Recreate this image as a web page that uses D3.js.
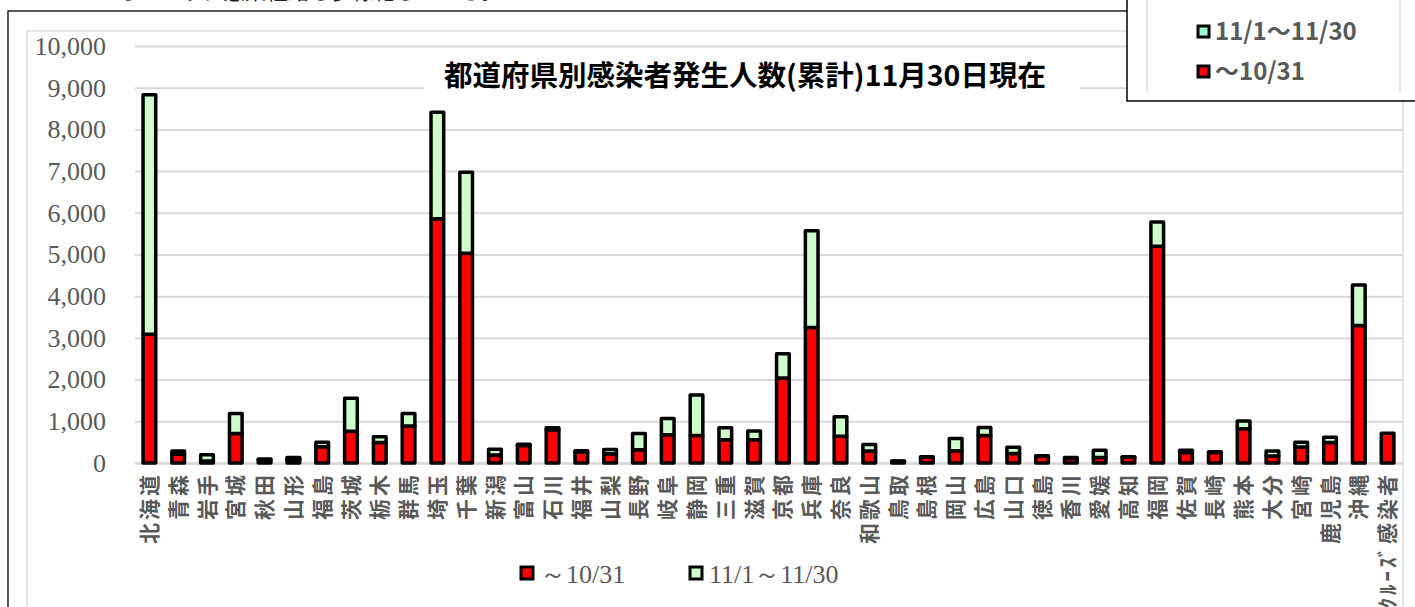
<!DOCTYPE html>
<html>
<head>
<meta charset="utf-8">
<script src="https://cdn.jsdelivr.net/npm/d3@7"></script>
<style>
  body { margin: 0; background: #fff; }
  svg { display: block; }
</style>
</head>
<body>
<svg id="drawing_region"></svg>
<script>
// prefectures (+ cruise ship)
const prefs = ['北海道','青森','岩手','宮城','秋田','山形','福島','茨城','栃木','群馬',
    '埼玉','千葉','新潟','富山','石川','福井','山梨','長野','岐阜','静岡',
    '三重','滋賀','京都','兵庫','奈良','和歌山','鳥取','島根','岡山','広島',
    '山口','徳島','香川','愛媛','高知','福岡','佐賀','長崎','熊本','大分',
    '宮崎','鹿児島','沖縄','ｸﾙｰｽﾞ感染者'];

// cumulative up to 10/31
const upTo1031 = [3090, 210, 45, 710, 70, 85, 390, 760, 490, 890,
    5860, 5030, 190, 420, 800, 260, 220, 320, 680, 660,
    560, 560, 2040, 3250, 640, 285, 40, 140, 295, 660,
    225, 160, 110, 130, 140, 5200, 250, 250, 820, 170,
    385, 490, 3300, 712];

// new cases 11/1 - 11/30
const nov = [5740, 80, 155, 480, 25, 45, 105, 790, 140, 300,
    2550, 1940, 140, 30, 45, 35, 105, 390, 390, 970,
    285, 205, 580, 2320, 470, 160, 8, 10, 295, 190,
    155, 15, 20, 175, 10, 580, 55, 20, 190, 115,
    110, 125, 970, 0];

const yTicks = [0, 1000, 2000, 3000, 4000, 5000, 6000, 7000, 8000, 9000, 10000];
const seriesNames = ['～10/31', '11/1～11/30'];
const seriesColors = ['#ff0000', '#ccffcc'];

const title = '都道府県別感染者発生人数(累計)11月30日現在';

class StackedBar {
    constructor(config) {
        this.config = config;
        this.data = prefs.map((p, i) => ({ pref: p, a: upTo1031[i], b: nov[i] }));
        this.init();
    }

    init() {
        let self = this;
        const m = self.config.margin;
        self.svg = d3.select(self.config.parent)
            .attr('width', self.config.width)
            .attr('height', self.config.height);

        self.xscale = d3.scaleBand()
            .domain(prefs)
            .range([m.left, m.right])
            .paddingInner(0.56)
            .paddingOuter(0.28);

        self.yscale = d3.scaleLinear()
            .domain([0, 10000])
            .range([m.bottom, m.top]);

        self.stack = d3.stack().keys(['a', 'b'])(self.data);
    }

    render() {
        let self = this;
        const m = self.config.margin;

        // text above chart, cut off by the page
        self.svg.append('text')
            .attr('x', 118).attr('y', -1)
            .attr('font-family', 'Noto Sans CJK JP')
            .attr('font-size', '21.5px')
            .attr('fill', '#222')
            .text('しており、感染経路も多様化している。');

        // outer frame
        self.svg.append('rect')
            .attr('x', 8).attr('y', 11)
            .attr('width', 1430).attr('height', 640)
            .attr('fill', '#fff')
            .attr('stroke', '#000')
            .attr('stroke-width', 1.3);

        self.svg.append('rect')
            .attr('x', 27).attr('y', 31)
            .attr('width', 1376).attr('height', 620)
            .attr('fill', 'none')
            .attr('stroke', '#d9d9d9')
            .attr('stroke-width', 1.3);

        // y axis + gridlines
        const yaxis = d3.axisLeft(self.yscale)
            .tickValues(yTicks)
            .tickFormat(d3.format(','))
            .tickSize(-(m.right - m.left))
            .tickPadding(29);

        self.svg.append('g')
            .attr('transform', `translate(${m.left}, 0)`)
            .call(yaxis)
            .call(g => g.select('.domain').remove())
            .call(g => g.selectAll('line')
                .attr('stroke', '#d9d9d9')
                .attr('stroke-width', 2))
            .call(g => g.selectAll('text')
                .attr('font-family', 'Liberation Serif')
                .attr('font-size', '26px')
                .attr('fill', '#595959'));

        // x axis
        const xaxis = d3.axisBottom(self.xscale).tickSize(0);
        self.svg.append('g')
            .attr('transform', `translate(0, ${m.bottom})`)
            .call(xaxis)
            .call(g => g.select('.domain')
                .attr('stroke', '#d9d9d9')
                .attr('stroke-width', 2.5))
            .call(g => g.selectAll('text')
                .attr('transform', 'rotate(-90)')
                .attr('x', -9)
                .attr('y', 0)
                .attr('dy', '0.36em')
                .attr('text-anchor', 'end')
                .attr('font-family', 'Noto Sans CJK JP')
                .attr('font-weight', 'bold')
                .attr('font-size', '21px')
                .attr('letter-spacing', '3px')
                .attr('fill', '#595959'));

        // bars
        self.svg.append('g')
            .selectAll('g')
            .data(self.stack)
            .join('g')
            .attr('fill', (d, i) => seriesColors[i])
            .selectAll('rect')
            .data(d => d)
            .join('rect')
            .attr('x', d => self.xscale(d.data.pref))
            .attr('y', d => self.yscale(d[1]))
            .attr('width', self.xscale.bandwidth())
            .attr('height', d => self.yscale(d[0]) - self.yscale(d[1]))
            .attr('stroke', '#000')
            .attr('stroke-width', 3.5)
            .attr('stroke-linejoin', 'round');

        // title with white box
        self.svg.append('rect')
            .attr('x', 424).attr('y', 52)
            .attr('width', 656).attr('height', 50)
            .attr('fill', '#fff');
        self.svg.append('text')
            .attr('x', 745).attr('y', 76)
            .attr('dy', '0.35em')
            .attr('text-anchor', 'middle')
            .attr('font-family', 'Noto Sans CJK JP')
            .attr('font-weight', 'bold')
            .attr('font-size', '28.5px')
            .attr('fill', '#000')
            .text(title);

        // bottom legend
        const leg = self.svg.append('g');
        const legX = [521, 690];
        seriesNames.forEach((s, i) => {
            leg.append('rect')
                .attr('x', legX[i]).attr('y', 567)
                .attr('width', 12).attr('height', 12)
                .attr('fill', seriesColors[i])
                .attr('stroke', '#000')
                .attr('stroke-width', 3);
            leg.append('text')
                .attr('x', legX[i] + 19).attr('y', 574)
                .attr('dy', '0.35em')
                .attr('font-family', 'Liberation Serif')
                .attr('font-size', '26px')
                .attr('fill', '#595959')
                .text(s);
        });

        // top-right legend box
        const box = self.svg.append('g');
        box.append('rect')
            .attr('x', 1127).attr('y', -5)
            .attr('width', 300).attr('height', 106)
            .attr('fill', '#fff')
            .attr('stroke', '#000')
            .attr('stroke-width', 1.5);
        [1147, 1400].forEach(x => {
            box.append('line')
                .attr('x1', x).attr('x2', x)
                .attr('y1', 0).attr('y2', 92)
                .attr('stroke', '#d9d9d9')
                .attr('stroke-width', 1.3);
        });
        const rows = [[1, 32], [0, 72]];
        rows.forEach(([i, y]) => {
            box.append('rect')
                .attr('x', 1198).attr('y', y - 6)
                .attr('width', 11).attr('height', 11)
                .attr('fill', i === 0 ? '#ff0000' : '#99ffcc')
                .attr('stroke', '#000')
                .attr('stroke-width', 3);
            box.append('text')
                .attr('x', 1215).attr('y', y)
                .attr('dy', '0.35em')
                .attr('font-family', 'Noto Sans CJK JP')
                .attr('font-weight', 'bold')
                .attr('font-size', '24px')
                .attr('fill', '#595959')
                .text(seriesNames[i]);
        });
    }
}

const chart = new StackedBar({
    parent: '#drawing_region',
    width: 1415,
    height: 607,
    margin: { left: 135, right: 1402, top: 46, bottom: 463 }
});
chart.render();
</script>
</body>
</html>
